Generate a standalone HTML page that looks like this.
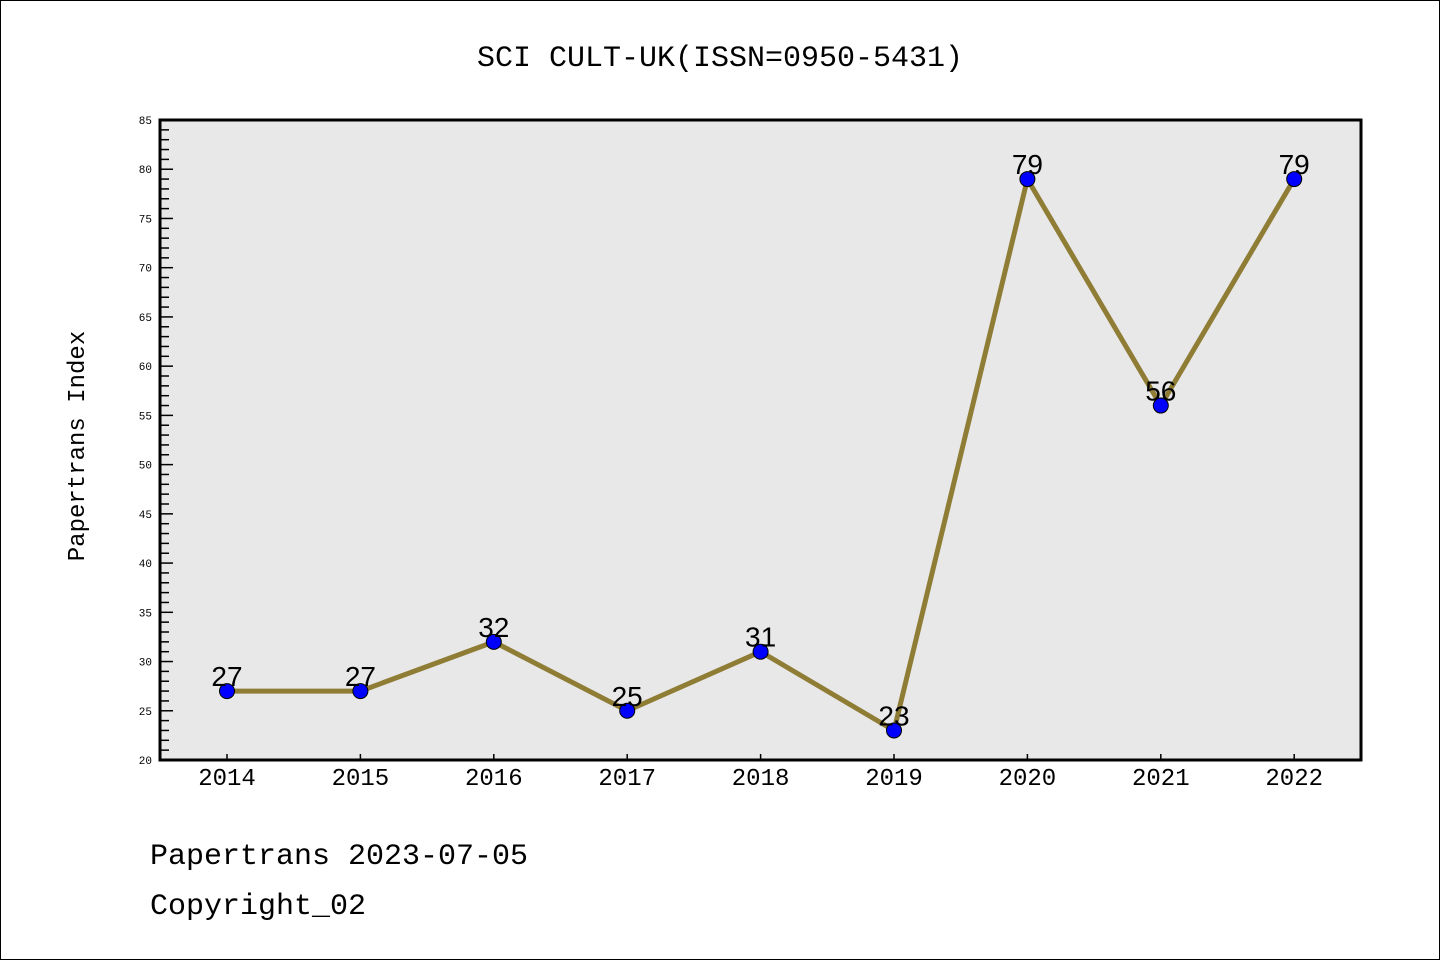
<!DOCTYPE html>
<html><head><meta charset="utf-8"><style>
html,body{margin:0;padding:0;background:#fff}
svg{display:block;font-family:"Liberation Mono","DejaVu Sans Mono",monospace}
</style></head><body>
<svg id="c" width="1440" height="960" viewBox="0 0 1440 960" xmlns="http://www.w3.org/2000/svg">
<rect x="0.5" y="0.5" width="1439" height="959" fill="#fff" stroke="#000"/>
<text x="720" y="66" text-anchor="middle" font-size="30">SCI CULT-UK(ISSN=0950-5431)</text>
<rect x="160" y="120" width="1201" height="640" fill="#e8e8e8"/>
<g id="ticks"></g>
<g id="series"></g>
<rect x="160" y="120" width="1201" height="640" fill="none" stroke="#000" stroke-width="3"/>
<text transform="translate(84,446) rotate(-90)" text-anchor="middle" font-size="24">Papertrans Index</text>
<text x="150" y="864" font-size="30">Papertrans 2023-07-05</text>
<text x="150" y="914" font-size="30">Copyright_02</text>
</svg>
<script>
const categories=["2014","2015","2016","2017","2018","2019","2020","2021","2022"];
const values=[27,27,32,25,31,23,79,56,79];
const yTicks=[20,25,30,35,40,45,50,55,60,65,70,75,80,85];
const NS="http://www.w3.org/2000/svg";
const yMin=20,yMax=85,top0=120,bot=760,x0=227,dx=133.4;
function y(v){return bot-(v-yMin)/(yMax-yMin)*(bot-top0);}
function x(i){return x0+i*dx;}
function mk(t,a,p){const e=document.createElementNS(NS,t);for(const k in a)e.setAttribute(k,a[k]);p.appendChild(e);return e;}
const tg=document.getElementById('ticks'),sg=document.getElementById('series');
for(let v=yMin;v<=yMax;v++){
  const major=(v%5===0);
  const l=mk('line',{x1:160,x2:160+(major?13:9),y1:y(v),y2:y(v),stroke:'#000','stroke-width':1.5},tg);
  
  
}
yTicks.forEach(v=>{
  const t=mk('text',{x:152,y:y(v)+4,'text-anchor':'end','font-size':11},tg);t.textContent=v;
  
  
});
categories.forEach((c,i)=>{
  const l=mk('line',{x1:x(i),x2:x(i),y1:bot-6,y2:bot,stroke:'#000','stroke-width':1.5},tg);
  
  
  const t=mk('text',{x:x(i),y:bot+25,'text-anchor':'middle','font-size':24},tg);t.textContent=c;
  
  
});
const pl=mk('polyline',{points:values.map((v,i)=>x(i)+','+y(v)).join(' '),fill:'none',stroke:'#8f7d35','stroke-width':5},sg);


values.forEach((v,i)=>{
  const c=mk('circle',{cx:x(i),cy:y(v),r:7.5,fill:'#0000ff',stroke:'#000','stroke-width':1},sg);
  
  
  const t=mk('text',{x:x(i),y:y(v)-5,'text-anchor':'middle','font-size':28,'font-family':'Liberation Sans, sans-serif'},sg);t.textContent=v;
  
  
});
</script>
</body></html>
